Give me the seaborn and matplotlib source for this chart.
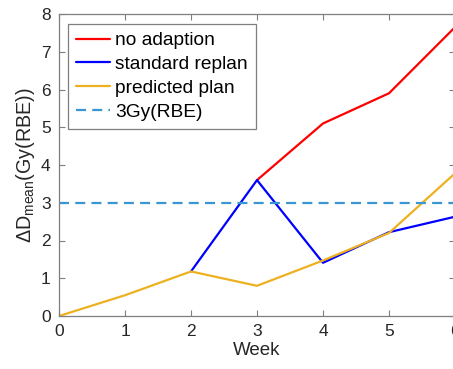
import matplotlib
matplotlib.use("Agg")
import matplotlib.pyplot as plt
import seaborn as sns
import pandas as pd

# Mean dose difference per week for each planning strategy
weeks_no_adapt = [3, 4, 5, 6]
no_adaption = [3.6, 5.1, 5.9, 7.65]

weeks_replan = [2, 3, 4, 5, 6]
standard_replan = [1.18, 3.6, 1.41, 2.22, 2.63]

weeks_pred = [0, 1, 2, 3, 4, 5, 6]
predicted_plan = [0.0, 0.55, 1.18, 0.8, 1.47, 2.2, 3.78]

threshold = 3.0
xticks = [0, 1, 2, 3, 4, 5, 6]
yticks = [0, 1, 2, 3, 4, 5, 6, 7, 8]

sns.set_style("white")
plt.rcParams["font.family"] = ["Liberation Sans", "DejaVu Sans"]
plt.rcParams["mathtext.fontset"] = "custom"
plt.rcParams["mathtext.rm"] = "Liberation Sans"
plt.rcParams["mathtext.it"] = "Liberation Sans:italic"
plt.rcParams["mathtext.default"] = "regular"

text_color = "#262626"
axis_color = "#7f7f7f"

fig = plt.figure(figsize=(4.53, 3.69), dpi=100)
ax = fig.add_axes([59 / 453, 1 - 316 / 369, 396 / 453, 302 / 369])

df_red = pd.DataFrame({"week": weeks_no_adapt, "dose": no_adaption})
df_blue = pd.DataFrame({"week": weeks_replan, "dose": standard_replan})
df_orange = pd.DataFrame({"week": weeks_pred, "dose": predicted_plan})

sns.lineplot(data=df_red, x="week", y="dose", ax=ax, color="#ff0000",
             lw=1.6, label="no adaption")
sns.lineplot(data=df_blue, x="week", y="dose", ax=ax, color="#0000ff",
             lw=1.6, label="standard replan")
sns.lineplot(data=df_orange, x="week", y="dose", ax=ax, color="#edb120",
             lw=1.6, label="predicted plan")
ax.axhline(threshold, color="#3a96d2", lw=1.6, dashes=(4.5, 2.8),
           label="3Gy(RBE)")

ax.set_xlim(0, 6)
ax.set_ylim(0, 8)
ax.set_xticks(xticks)
ax.set_yticks(yticks)
ax.tick_params(direction="in", length=4, width=0.8, colors=axis_color,
               labelcolor=text_color, labelsize=12.5,
               top=True, right=True, bottom=True, left=True, pad=6)
for sp in ax.spines.values():
    sp.set_visible(True)
    sp.set_color(axis_color)
    sp.set_linewidth(0.9)

ax.set_xlabel("Week", fontsize=13.5, color=text_color, labelpad=2)
ax.set_ylabel(r"$\Delta$D$_{\mathrm{mean}}$(Gy(RBE))", fontsize=14.2,
              color=text_color, labelpad=3)

leg = ax.legend(loc="upper left", bbox_to_anchor=(0.023, 0.967),
                borderaxespad=0, fontsize=13.8, frameon=True, fancybox=False,
                framealpha=1, edgecolor=axis_color, handlelength=1.75,
                handletextpad=0.3, labelspacing=0.33, borderpad=0.42)
leg.get_frame().set_linewidth(0.9)
for t in leg.get_texts():
    t.set_color("#000000")

fig.savefig("out.png", dpi=100)
